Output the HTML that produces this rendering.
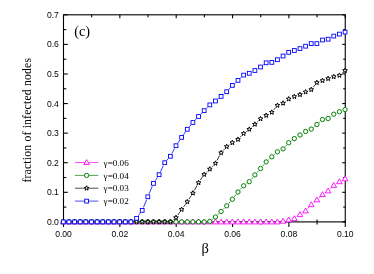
<!DOCTYPE html><html><head><meta charset="utf-8"><style>html,body{margin:0;padding:0;background:#fff}svg{display:block;will-change:transform}.se{font-family:"Liberation Serif",serif}.sa{font-family:"Liberation Sans",sans-serif}</style></head><body><svg width="374" height="274" viewBox="0 0 374 274">
<rect width="374" height="274" fill="#fff"/>
<g stroke="#000" stroke-width="1.1" fill="none">
<rect x="63.5" y="14.8" width="281.75" height="207.10"/>
<line x1="63.50" y1="220.4" x2="63.50" y2="226.9"/>
<line x1="63.50" y1="14.8" x2="63.50" y2="18.3"/>
<line x1="91.67" y1="219.4" x2="91.67" y2="224.4"/>
<line x1="91.67" y1="14.8" x2="91.67" y2="17.3"/>
<line x1="119.85" y1="220.4" x2="119.85" y2="226.9"/>
<line x1="119.85" y1="14.8" x2="119.85" y2="18.3"/>
<line x1="148.03" y1="219.4" x2="148.03" y2="224.4"/>
<line x1="148.03" y1="14.8" x2="148.03" y2="17.3"/>
<line x1="176.20" y1="220.4" x2="176.20" y2="226.9"/>
<line x1="176.20" y1="14.8" x2="176.20" y2="18.3"/>
<line x1="204.38" y1="219.4" x2="204.38" y2="224.4"/>
<line x1="204.38" y1="14.8" x2="204.38" y2="17.3"/>
<line x1="232.55" y1="220.4" x2="232.55" y2="226.9"/>
<line x1="232.55" y1="14.8" x2="232.55" y2="18.3"/>
<line x1="260.73" y1="219.4" x2="260.73" y2="224.4"/>
<line x1="260.73" y1="14.8" x2="260.73" y2="17.3"/>
<line x1="288.90" y1="220.4" x2="288.90" y2="226.9"/>
<line x1="288.90" y1="14.8" x2="288.90" y2="18.3"/>
<line x1="317.07" y1="219.4" x2="317.07" y2="224.4"/>
<line x1="317.07" y1="14.8" x2="317.07" y2="17.3"/>
<line x1="345.25" y1="220.4" x2="345.25" y2="226.9"/>
<line x1="345.25" y1="14.8" x2="345.25" y2="18.3"/>
<line x1="63.5" y1="221.90" x2="67.8" y2="221.90"/>
<line x1="345.25" y1="221.90" x2="342.25" y2="221.90"/>
<line x1="63.5" y1="207.11" x2="66.3" y2="207.11"/>
<line x1="345.25" y1="207.11" x2="343.25" y2="207.11"/>
<line x1="63.5" y1="192.31" x2="67.8" y2="192.31"/>
<line x1="345.25" y1="192.31" x2="342.25" y2="192.31"/>
<line x1="63.5" y1="177.52" x2="66.3" y2="177.52"/>
<line x1="345.25" y1="177.52" x2="343.25" y2="177.52"/>
<line x1="63.5" y1="162.73" x2="67.8" y2="162.73"/>
<line x1="345.25" y1="162.73" x2="342.25" y2="162.73"/>
<line x1="63.5" y1="147.94" x2="66.3" y2="147.94"/>
<line x1="345.25" y1="147.94" x2="343.25" y2="147.94"/>
<line x1="63.5" y1="133.14" x2="67.8" y2="133.14"/>
<line x1="345.25" y1="133.14" x2="342.25" y2="133.14"/>
<line x1="63.5" y1="118.35" x2="66.3" y2="118.35"/>
<line x1="345.25" y1="118.35" x2="343.25" y2="118.35"/>
<line x1="63.5" y1="103.56" x2="67.8" y2="103.56"/>
<line x1="345.25" y1="103.56" x2="342.25" y2="103.56"/>
<line x1="63.5" y1="88.76" x2="66.3" y2="88.76"/>
<line x1="345.25" y1="88.76" x2="343.25" y2="88.76"/>
<line x1="63.5" y1="73.97" x2="67.8" y2="73.97"/>
<line x1="345.25" y1="73.97" x2="342.25" y2="73.97"/>
<line x1="63.5" y1="59.18" x2="66.3" y2="59.18"/>
<line x1="345.25" y1="59.18" x2="343.25" y2="59.18"/>
<line x1="63.5" y1="44.39" x2="67.8" y2="44.39"/>
<line x1="345.25" y1="44.39" x2="342.25" y2="44.39"/>
<line x1="63.5" y1="29.59" x2="66.3" y2="29.59"/>
<line x1="345.25" y1="29.59" x2="343.25" y2="29.59"/>
<line x1="63.5" y1="14.80" x2="67.8" y2="14.80"/>
<line x1="345.25" y1="14.80" x2="342.25" y2="14.80"/>
</g>
<path d="M296.94,216.75L297.36,216.45M302.64,212.84L302.93,212.66M307.76,208.53L309.09,207.07M313.68,202.62L314.44,201.98M319.21,197.71L320.18,196.79M325.18,192.84L325.47,192.66M330.44,188.66L331.49,187.64M336.45,183.64L336.74,183.46" fill="none" stroke="#ff00ff" stroke-width="0.8"/>
<path d="M60.50,223.90 L66.10,223.90 L63.30,219.00 Z" fill="#fff" stroke="#ff00ff" stroke-width="0.9"/>
<path d="M66.14,223.90 L71.73,223.90 L68.94,219.00 Z" fill="#fff" stroke="#ff00ff" stroke-width="0.9"/>
<path d="M71.77,223.90 L77.37,223.90 L74.57,219.00 Z" fill="#fff" stroke="#ff00ff" stroke-width="0.9"/>
<path d="M77.41,223.90 L83.00,223.90 L80.20,219.00 Z" fill="#fff" stroke="#ff00ff" stroke-width="0.9"/>
<path d="M83.04,223.90 L88.64,223.90 L85.84,219.00 Z" fill="#fff" stroke="#ff00ff" stroke-width="0.9"/>
<path d="M88.67,223.90 L94.27,223.90 L91.47,219.00 Z" fill="#fff" stroke="#ff00ff" stroke-width="0.9"/>
<path d="M94.31,223.90 L99.91,223.90 L97.11,219.00 Z" fill="#fff" stroke="#ff00ff" stroke-width="0.9"/>
<path d="M99.95,223.90 L105.55,223.90 L102.75,219.00 Z" fill="#fff" stroke="#ff00ff" stroke-width="0.9"/>
<path d="M105.58,223.90 L111.18,223.90 L108.38,219.00 Z" fill="#fff" stroke="#ff00ff" stroke-width="0.9"/>
<path d="M111.21,223.90 L116.81,223.90 L114.01,219.00 Z" fill="#fff" stroke="#ff00ff" stroke-width="0.9"/>
<path d="M116.85,223.90 L122.45,223.90 L119.65,219.00 Z" fill="#fff" stroke="#ff00ff" stroke-width="0.9"/>
<path d="M122.48,223.90 L128.09,223.90 L125.28,219.00 Z" fill="#fff" stroke="#ff00ff" stroke-width="0.9"/>
<path d="M128.12,223.90 L133.72,223.90 L130.92,219.00 Z" fill="#fff" stroke="#ff00ff" stroke-width="0.9"/>
<path d="M133.75,223.90 L139.36,223.90 L136.56,219.00 Z" fill="#fff" stroke="#ff00ff" stroke-width="0.9"/>
<path d="M139.39,223.90 L144.99,223.90 L142.19,219.00 Z" fill="#fff" stroke="#ff00ff" stroke-width="0.9"/>
<path d="M145.02,223.90 L150.62,223.90 L147.82,219.00 Z" fill="#fff" stroke="#ff00ff" stroke-width="0.9"/>
<path d="M150.66,223.90 L156.26,223.90 L153.46,219.00 Z" fill="#fff" stroke="#ff00ff" stroke-width="0.9"/>
<path d="M156.29,223.90 L161.90,223.90 L159.09,219.00 Z" fill="#fff" stroke="#ff00ff" stroke-width="0.9"/>
<path d="M161.93,223.90 L167.53,223.90 L164.73,219.00 Z" fill="#fff" stroke="#ff00ff" stroke-width="0.9"/>
<path d="M167.56,223.90 L173.17,223.90 L170.37,219.00 Z" fill="#fff" stroke="#ff00ff" stroke-width="0.9"/>
<path d="M173.20,223.90 L178.80,223.90 L176.00,219.00 Z" fill="#fff" stroke="#ff00ff" stroke-width="0.9"/>
<path d="M178.83,223.90 L184.44,223.90 L181.63,219.00 Z" fill="#fff" stroke="#ff00ff" stroke-width="0.9"/>
<path d="M184.47,223.90 L190.07,223.90 L187.27,219.00 Z" fill="#fff" stroke="#ff00ff" stroke-width="0.9"/>
<path d="M190.10,223.90 L195.70,223.90 L192.90,219.00 Z" fill="#fff" stroke="#ff00ff" stroke-width="0.9"/>
<path d="M195.74,223.90 L201.34,223.90 L198.54,219.00 Z" fill="#fff" stroke="#ff00ff" stroke-width="0.9"/>
<path d="M201.38,223.90 L206.98,223.90 L204.18,219.00 Z" fill="#fff" stroke="#ff00ff" stroke-width="0.9"/>
<path d="M207.01,223.90 L212.61,223.90 L209.81,219.00 Z" fill="#fff" stroke="#ff00ff" stroke-width="0.9"/>
<path d="M212.64,223.90 L218.25,223.90 L215.44,219.00 Z" fill="#fff" stroke="#ff00ff" stroke-width="0.9"/>
<path d="M218.28,223.90 L223.88,223.90 L221.08,219.00 Z" fill="#fff" stroke="#ff00ff" stroke-width="0.9"/>
<path d="M223.91,223.90 L229.51,223.90 L226.71,219.00 Z" fill="#fff" stroke="#ff00ff" stroke-width="0.9"/>
<path d="M229.55,223.90 L235.15,223.90 L232.35,219.00 Z" fill="#fff" stroke="#ff00ff" stroke-width="0.9"/>
<path d="M235.19,223.90 L240.79,223.90 L237.99,219.00 Z" fill="#fff" stroke="#ff00ff" stroke-width="0.9"/>
<path d="M240.82,223.90 L246.42,223.90 L243.62,219.00 Z" fill="#fff" stroke="#ff00ff" stroke-width="0.9"/>
<path d="M246.45,223.90 L252.06,223.90 L249.25,219.00 Z" fill="#fff" stroke="#ff00ff" stroke-width="0.9"/>
<path d="M252.09,223.90 L257.69,223.90 L254.89,219.00 Z" fill="#fff" stroke="#ff00ff" stroke-width="0.9"/>
<path d="M257.72,223.90 L263.32,223.90 L260.52,219.00 Z" fill="#fff" stroke="#ff00ff" stroke-width="0.9"/>
<path d="M263.36,223.90 L268.96,223.90 L266.16,219.00 Z" fill="#fff" stroke="#ff00ff" stroke-width="0.9"/>
<path d="M269.00,223.90 L274.60,223.90 L271.80,219.00 Z" fill="#fff" stroke="#ff00ff" stroke-width="0.9"/>
<path d="M274.63,223.90 L280.23,223.90 L277.43,219.00 Z" fill="#fff" stroke="#ff00ff" stroke-width="0.9"/>
<path d="M280.26,223.20 L285.87,223.20 L283.06,218.30 Z" fill="#fff" stroke="#ff00ff" stroke-width="0.9"/>
<path d="M285.90,221.90 L291.50,221.90 L288.70,217.00 Z" fill="#fff" stroke="#ff00ff" stroke-width="0.9"/>
<path d="M291.53,220.60 L297.13,220.60 L294.33,215.70 Z" fill="#fff" stroke="#ff00ff" stroke-width="0.9"/>
<path d="M297.17,216.60 L302.77,216.60 L299.97,211.70 Z" fill="#fff" stroke="#ff00ff" stroke-width="0.9"/>
<path d="M302.80,212.90 L308.40,212.90 L305.60,208.00 Z" fill="#fff" stroke="#ff00ff" stroke-width="0.9"/>
<path d="M308.44,206.70 L314.04,206.70 L311.24,201.80 Z" fill="#fff" stroke="#ff00ff" stroke-width="0.9"/>
<path d="M314.07,201.90 L319.68,201.90 L316.88,197.00 Z" fill="#fff" stroke="#ff00ff" stroke-width="0.9"/>
<path d="M319.71,196.60 L325.31,196.60 L322.51,191.70 Z" fill="#fff" stroke="#ff00ff" stroke-width="0.9"/>
<path d="M325.34,192.90 L330.94,192.90 L328.14,188.00 Z" fill="#fff" stroke="#ff00ff" stroke-width="0.9"/>
<path d="M330.98,187.40 L336.58,187.40 L333.78,182.50 Z" fill="#fff" stroke="#ff00ff" stroke-width="0.9"/>
<path d="M336.62,183.70 L342.22,183.70 L339.42,178.80 Z" fill="#fff" stroke="#ff00ff" stroke-width="0.9"/>
<path d="M342.25,180.80 L347.85,180.80 L345.05,175.90 Z" fill="#fff" stroke="#ff00ff" stroke-width="0.9"/>
<path d="M212.33,219.43L212.92,218.97M217.74,214.76L218.79,213.74M223.33,209.22L224.47,208.08M228.79,203.37L230.27,201.63M234.32,196.68L236.01,194.52M240.14,189.63L241.47,188.17M246.21,183.92L246.67,183.58M251.30,179.24L252.85,177.36M257.00,172.50L258.41,170.90M262.60,166.07L264.08,164.33M268.53,159.75L269.42,158.95M274.19,154.68L275.04,153.92M285.22,146.53L286.55,145.07M291.29,140.82L291.75,140.48M313.72,127.08L314.40,126.52M319.27,122.38L320.12,121.62M330.69,116.56L331.24,116.14" fill="none" stroke="#008000" stroke-width="0.8"/>
<circle cx="63.30" cy="221.90" r="2.15" fill="#fff" stroke="#008000" stroke-width="1.0"/>
<circle cx="68.94" cy="221.90" r="2.15" fill="#fff" stroke="#008000" stroke-width="1.0"/>
<circle cx="74.57" cy="221.90" r="2.15" fill="#fff" stroke="#008000" stroke-width="1.0"/>
<circle cx="80.20" cy="221.90" r="2.15" fill="#fff" stroke="#008000" stroke-width="1.0"/>
<circle cx="85.84" cy="221.90" r="2.15" fill="#fff" stroke="#008000" stroke-width="1.0"/>
<circle cx="91.47" cy="221.90" r="2.15" fill="#fff" stroke="#008000" stroke-width="1.0"/>
<circle cx="97.11" cy="221.90" r="2.15" fill="#fff" stroke="#008000" stroke-width="1.0"/>
<circle cx="102.75" cy="221.90" r="2.15" fill="#fff" stroke="#008000" stroke-width="1.0"/>
<circle cx="108.38" cy="221.90" r="2.15" fill="#fff" stroke="#008000" stroke-width="1.0"/>
<circle cx="114.01" cy="221.90" r="2.15" fill="#fff" stroke="#008000" stroke-width="1.0"/>
<circle cx="119.65" cy="221.90" r="2.15" fill="#fff" stroke="#008000" stroke-width="1.0"/>
<circle cx="125.28" cy="221.90" r="2.15" fill="#fff" stroke="#008000" stroke-width="1.0"/>
<circle cx="130.92" cy="221.90" r="2.15" fill="#fff" stroke="#008000" stroke-width="1.0"/>
<circle cx="136.56" cy="221.90" r="2.15" fill="#fff" stroke="#008000" stroke-width="1.0"/>
<circle cx="142.19" cy="221.90" r="2.15" fill="#fff" stroke="#008000" stroke-width="1.0"/>
<circle cx="147.82" cy="221.90" r="2.15" fill="#fff" stroke="#008000" stroke-width="1.0"/>
<circle cx="153.46" cy="221.90" r="2.15" fill="#fff" stroke="#008000" stroke-width="1.0"/>
<circle cx="159.09" cy="221.90" r="2.15" fill="#fff" stroke="#008000" stroke-width="1.0"/>
<circle cx="164.73" cy="221.90" r="2.15" fill="#fff" stroke="#008000" stroke-width="1.0"/>
<circle cx="170.37" cy="221.90" r="2.15" fill="#fff" stroke="#008000" stroke-width="1.0"/>
<circle cx="176.00" cy="221.90" r="2.15" fill="#fff" stroke="#008000" stroke-width="1.0"/>
<circle cx="181.63" cy="221.90" r="2.15" fill="#fff" stroke="#008000" stroke-width="1.0"/>
<circle cx="187.27" cy="221.90" r="2.15" fill="#fff" stroke="#008000" stroke-width="1.0"/>
<circle cx="192.90" cy="221.90" r="2.15" fill="#fff" stroke="#008000" stroke-width="1.0"/>
<circle cx="198.54" cy="221.90" r="2.15" fill="#fff" stroke="#008000" stroke-width="1.0"/>
<circle cx="204.18" cy="221.90" r="2.15" fill="#fff" stroke="#008000" stroke-width="1.0"/>
<circle cx="209.81" cy="221.40" r="2.15" fill="#fff" stroke="#008000" stroke-width="1.0"/>
<circle cx="215.44" cy="217.00" r="2.15" fill="#fff" stroke="#008000" stroke-width="1.0"/>
<circle cx="221.08" cy="211.50" r="2.15" fill="#fff" stroke="#008000" stroke-width="1.0"/>
<circle cx="226.71" cy="205.80" r="2.15" fill="#fff" stroke="#008000" stroke-width="1.0"/>
<circle cx="232.35" cy="199.20" r="2.15" fill="#fff" stroke="#008000" stroke-width="1.0"/>
<circle cx="237.99" cy="192.00" r="2.15" fill="#fff" stroke="#008000" stroke-width="1.0"/>
<circle cx="243.62" cy="185.80" r="2.15" fill="#fff" stroke="#008000" stroke-width="1.0"/>
<circle cx="249.25" cy="181.70" r="2.15" fill="#fff" stroke="#008000" stroke-width="1.0"/>
<circle cx="254.89" cy="174.90" r="2.15" fill="#fff" stroke="#008000" stroke-width="1.0"/>
<circle cx="260.52" cy="168.50" r="2.15" fill="#fff" stroke="#008000" stroke-width="1.0"/>
<circle cx="266.16" cy="161.90" r="2.15" fill="#fff" stroke="#008000" stroke-width="1.0"/>
<circle cx="271.80" cy="156.80" r="2.15" fill="#fff" stroke="#008000" stroke-width="1.0"/>
<circle cx="277.43" cy="151.80" r="2.15" fill="#fff" stroke="#008000" stroke-width="1.0"/>
<circle cx="283.06" cy="148.90" r="2.15" fill="#fff" stroke="#008000" stroke-width="1.0"/>
<circle cx="288.70" cy="142.70" r="2.15" fill="#fff" stroke="#008000" stroke-width="1.0"/>
<circle cx="294.33" cy="138.60" r="2.15" fill="#fff" stroke="#008000" stroke-width="1.0"/>
<circle cx="299.97" cy="135.00" r="2.15" fill="#fff" stroke="#008000" stroke-width="1.0"/>
<circle cx="305.60" cy="131.50" r="2.15" fill="#fff" stroke="#008000" stroke-width="1.0"/>
<circle cx="311.24" cy="129.10" r="2.15" fill="#fff" stroke="#008000" stroke-width="1.0"/>
<circle cx="316.88" cy="124.50" r="2.15" fill="#fff" stroke="#008000" stroke-width="1.0"/>
<circle cx="322.51" cy="119.50" r="2.15" fill="#fff" stroke="#008000" stroke-width="1.0"/>
<circle cx="328.14" cy="118.50" r="2.15" fill="#fff" stroke="#008000" stroke-width="1.0"/>
<circle cx="333.78" cy="114.20" r="2.15" fill="#fff" stroke="#008000" stroke-width="1.0"/>
<circle cx="339.42" cy="111.80" r="2.15" fill="#fff" stroke="#008000" stroke-width="1.0"/>
<circle cx="345.05" cy="109.60" r="2.15" fill="#fff" stroke="#008000" stroke-width="1.0"/>
<path d="M172.91,219.96L173.46,219.54M177.83,214.97L179.81,212.13M183.52,206.92L185.38,204.38M189.01,199.11L191.17,195.79M194.43,190.29L197.02,185.51M200.35,180.06L202.36,177.14M206.49,172.29L207.50,171.31M212.04,166.80L213.22,165.60M216.96,160.48L219.57,155.62M223.23,150.43L224.56,148.97M229.35,144.78L229.72,144.52M240.20,137.09L241.41,135.81M246.19,131.59L246.69,131.21M251.65,127.18L252.50,126.42M257.18,122.06L258.23,121.04M273.82,109.82L275.41,107.88M285.63,101.29L286.13,100.91M313.25,87.11L314.87,85.09M341.83,73.30L342.64,72.60" fill="none" stroke="#000" stroke-width="0.8"/>
<polygon points="63.30,219.45 63.92,221.05 65.63,221.14 64.30,222.22 64.74,223.88 63.30,222.95 61.86,223.88 62.30,222.22 60.97,221.14 62.68,221.05" fill="#fff" stroke="#000" stroke-width="1.0"/>
<polygon points="68.94,219.45 69.55,221.05 71.27,221.14 69.93,222.22 70.38,223.88 68.94,222.95 67.49,223.88 67.94,222.22 66.60,221.14 68.32,221.05" fill="#fff" stroke="#000" stroke-width="1.0"/>
<polygon points="74.57,219.45 75.19,221.05 76.90,221.14 75.57,222.22 76.01,223.88 74.57,222.95 73.13,223.88 73.57,222.22 72.24,221.14 73.95,221.05" fill="#fff" stroke="#000" stroke-width="1.0"/>
<polygon points="80.20,219.45 80.82,221.05 82.54,221.14 81.20,222.22 81.65,223.88 80.20,222.95 78.76,223.88 79.21,222.22 77.87,221.14 79.59,221.05" fill="#fff" stroke="#000" stroke-width="1.0"/>
<polygon points="85.84,219.45 86.46,221.05 88.17,221.14 86.84,222.22 87.28,223.88 85.84,222.95 84.40,223.88 84.84,222.22 83.51,221.14 85.22,221.05" fill="#fff" stroke="#000" stroke-width="1.0"/>
<polygon points="91.47,219.45 92.09,221.05 93.81,221.14 92.47,222.22 92.92,223.88 91.47,222.95 90.03,223.88 90.48,222.22 89.14,221.14 90.86,221.05" fill="#fff" stroke="#000" stroke-width="1.0"/>
<polygon points="97.11,219.45 97.73,221.05 99.44,221.14 98.11,222.22 98.55,223.88 97.11,222.95 95.67,223.88 96.11,222.22 94.78,221.14 96.49,221.05" fill="#fff" stroke="#000" stroke-width="1.0"/>
<polygon points="102.75,219.45 103.36,221.05 105.08,221.14 103.74,222.22 104.19,223.88 102.75,222.95 101.30,223.88 101.75,222.22 100.41,221.14 102.13,221.05" fill="#fff" stroke="#000" stroke-width="1.0"/>
<polygon points="108.38,219.45 109.00,221.05 110.71,221.14 109.38,222.22 109.82,223.88 108.38,222.95 106.94,223.88 107.38,222.22 106.05,221.14 107.76,221.05" fill="#fff" stroke="#000" stroke-width="1.0"/>
<polygon points="114.01,219.45 114.63,221.05 116.35,221.14 115.01,222.22 115.46,223.88 114.01,222.95 112.57,223.88 113.02,222.22 111.68,221.14 113.40,221.05" fill="#fff" stroke="#000" stroke-width="1.0"/>
<polygon points="119.65,219.45 120.27,221.05 121.98,221.14 120.65,222.22 121.09,223.88 119.65,222.95 118.21,223.88 118.65,222.22 117.32,221.14 119.03,221.05" fill="#fff" stroke="#000" stroke-width="1.0"/>
<polygon points="125.28,219.45 125.90,221.05 127.62,221.14 126.28,222.22 126.73,223.88 125.28,222.95 123.84,223.88 124.29,222.22 122.95,221.14 124.67,221.05" fill="#fff" stroke="#000" stroke-width="1.0"/>
<polygon points="130.92,219.45 131.54,221.05 133.25,221.14 131.92,222.22 132.36,223.88 130.92,222.95 129.48,223.88 129.92,222.22 128.59,221.14 130.30,221.05" fill="#fff" stroke="#000" stroke-width="1.0"/>
<polygon points="136.56,219.45 137.17,221.05 138.89,221.14 137.55,222.22 138.00,223.88 136.56,222.95 135.11,223.88 135.56,222.22 134.22,221.14 135.94,221.05" fill="#fff" stroke="#000" stroke-width="1.0"/>
<polygon points="142.19,219.45 142.81,221.05 144.52,221.14 143.19,222.22 143.63,223.88 142.19,222.95 140.75,223.88 141.19,222.22 139.86,221.14 141.57,221.05" fill="#fff" stroke="#000" stroke-width="1.0"/>
<polygon points="147.82,219.45 148.44,221.05 150.16,221.14 148.82,222.22 149.27,223.88 147.82,222.95 146.38,223.88 146.83,222.22 145.49,221.14 147.21,221.05" fill="#fff" stroke="#000" stroke-width="1.0"/>
<polygon points="153.46,219.45 154.08,221.05 155.79,221.14 154.46,222.22 154.90,223.88 153.46,222.95 152.02,223.88 152.46,222.22 151.13,221.14 152.84,221.05" fill="#fff" stroke="#000" stroke-width="1.0"/>
<polygon points="159.09,219.45 159.71,221.05 161.43,221.14 160.09,222.22 160.54,223.88 159.09,222.95 157.65,223.88 158.10,222.22 156.76,221.14 158.48,221.05" fill="#fff" stroke="#000" stroke-width="1.0"/>
<polygon points="164.73,219.45 165.35,221.05 167.06,221.14 165.73,222.22 166.17,223.88 164.73,222.95 163.29,223.88 163.73,222.22 162.40,221.14 164.11,221.05" fill="#fff" stroke="#000" stroke-width="1.0"/>
<polygon points="170.37,219.45 170.98,221.05 172.70,221.14 171.36,222.22 171.81,223.88 170.37,222.95 168.92,223.88 169.37,222.22 168.03,221.14 169.75,221.05" fill="#fff" stroke="#000" stroke-width="1.0"/>
<polygon points="176.00,215.15 176.62,216.75 178.33,216.84 177.00,217.92 177.44,219.58 176.00,218.65 174.56,219.58 175.00,217.92 173.67,216.84 175.38,216.75" fill="#fff" stroke="#000" stroke-width="1.0"/>
<polygon points="181.63,207.05 182.25,208.65 183.97,208.74 182.63,209.82 183.08,211.48 181.63,210.55 180.19,211.48 180.64,209.82 179.30,208.74 181.02,208.65" fill="#fff" stroke="#000" stroke-width="1.0"/>
<polygon points="187.27,199.35 187.89,200.95 189.60,201.04 188.27,202.12 188.71,203.78 187.27,202.85 185.83,203.78 186.27,202.12 184.94,201.04 186.65,200.95" fill="#fff" stroke="#000" stroke-width="1.0"/>
<polygon points="192.90,190.65 193.52,192.25 195.24,192.34 193.90,193.42 194.35,195.08 192.90,194.15 191.46,195.08 191.91,193.42 190.57,192.34 192.29,192.25" fill="#fff" stroke="#000" stroke-width="1.0"/>
<polygon points="198.54,180.25 199.16,181.85 200.87,181.94 199.54,183.02 199.98,184.68 198.54,183.75 197.10,184.68 197.54,183.02 196.21,181.94 197.92,181.85" fill="#fff" stroke="#000" stroke-width="1.0"/>
<polygon points="204.18,172.05 204.79,173.65 206.51,173.74 205.17,174.82 205.62,176.48 204.18,175.55 202.73,176.48 203.18,174.82 201.84,173.74 203.56,173.65" fill="#fff" stroke="#000" stroke-width="1.0"/>
<polygon points="209.81,166.65 210.43,168.25 212.14,168.34 210.81,169.42 211.25,171.08 209.81,170.15 208.37,171.08 208.81,169.42 207.48,168.34 209.19,168.25" fill="#fff" stroke="#000" stroke-width="1.0"/>
<polygon points="215.44,160.85 216.06,162.45 217.78,162.54 216.44,163.62 216.89,165.28 215.44,164.35 214.00,165.28 214.45,163.62 213.11,162.54 214.83,162.45" fill="#fff" stroke="#000" stroke-width="1.0"/>
<polygon points="221.08,150.35 221.70,151.95 223.41,152.04 222.08,153.12 222.52,154.78 221.08,153.85 219.64,154.78 220.08,153.12 218.75,152.04 220.46,151.95" fill="#fff" stroke="#000" stroke-width="1.0"/>
<polygon points="226.71,144.15 227.33,145.75 229.05,145.84 227.71,146.92 228.16,148.58 226.71,147.65 225.27,148.58 225.72,146.92 224.38,145.84 226.10,145.75" fill="#fff" stroke="#000" stroke-width="1.0"/>
<polygon points="232.35,140.25 232.97,141.85 234.68,141.94 233.35,143.02 233.79,144.68 232.35,143.75 230.91,144.68 231.35,143.02 230.02,141.94 231.73,141.85" fill="#fff" stroke="#000" stroke-width="1.0"/>
<polygon points="237.99,136.95 238.60,138.55 240.32,138.64 238.98,139.72 239.43,141.38 237.99,140.45 236.54,141.38 236.99,139.72 235.65,138.64 237.37,138.55" fill="#fff" stroke="#000" stroke-width="1.0"/>
<polygon points="243.62,131.05 244.24,132.65 245.95,132.74 244.62,133.82 245.06,135.48 243.62,134.55 242.18,135.48 242.62,133.82 241.29,132.74 243.00,132.65" fill="#fff" stroke="#000" stroke-width="1.0"/>
<polygon points="249.25,126.85 249.87,128.45 251.59,128.54 250.25,129.62 250.70,131.28 249.25,130.35 247.81,131.28 248.26,129.62 246.92,128.54 248.64,128.45" fill="#fff" stroke="#000" stroke-width="1.0"/>
<polygon points="254.89,121.85 255.51,123.45 257.22,123.54 255.89,124.62 256.33,126.28 254.89,125.35 253.45,126.28 253.89,124.62 252.56,123.54 254.27,123.45" fill="#fff" stroke="#000" stroke-width="1.0"/>
<polygon points="260.52,116.35 261.14,117.95 262.86,118.04 261.52,119.12 261.97,120.78 260.52,119.85 259.08,120.78 259.53,119.12 258.19,118.04 259.91,117.95" fill="#fff" stroke="#000" stroke-width="1.0"/>
<polygon points="266.16,112.95 266.78,114.55 268.49,114.64 267.16,115.72 267.60,117.38 266.16,116.45 264.72,117.38 265.16,115.72 263.83,114.64 265.54,114.55" fill="#fff" stroke="#000" stroke-width="1.0"/>
<polygon points="271.80,109.85 272.41,111.45 274.13,111.54 272.79,112.62 273.24,114.28 271.80,113.35 270.35,114.28 270.80,112.62 269.46,111.54 271.18,111.45" fill="#fff" stroke="#000" stroke-width="1.0"/>
<polygon points="277.43,102.95 278.05,104.55 279.76,104.64 278.43,105.72 278.87,107.38 277.43,106.45 275.99,107.38 276.43,105.72 275.10,104.64 276.81,104.55" fill="#fff" stroke="#000" stroke-width="1.0"/>
<polygon points="283.06,100.75 283.68,102.35 285.40,102.44 284.06,103.52 284.51,105.18 283.06,104.25 281.62,105.18 282.07,103.52 280.73,102.44 282.45,102.35" fill="#fff" stroke="#000" stroke-width="1.0"/>
<polygon points="288.70,96.55 289.32,98.15 291.03,98.24 289.70,99.32 290.14,100.98 288.70,100.05 287.26,100.98 287.70,99.32 286.37,98.24 288.08,98.15" fill="#fff" stroke="#000" stroke-width="1.0"/>
<polygon points="294.33,94.15 294.95,95.75 296.67,95.84 295.33,96.92 295.78,98.58 294.33,97.65 292.89,98.58 293.34,96.92 292.00,95.84 293.72,95.75" fill="#fff" stroke="#000" stroke-width="1.0"/>
<polygon points="299.97,92.15 300.59,93.75 302.30,93.84 300.97,94.92 301.41,96.58 299.97,95.65 298.53,96.58 298.97,94.92 297.64,93.84 299.35,93.75" fill="#fff" stroke="#000" stroke-width="1.0"/>
<polygon points="305.60,89.55 306.22,91.15 307.94,91.24 306.60,92.32 307.05,93.98 305.60,93.05 304.16,93.98 304.61,92.32 303.27,91.24 304.99,91.15" fill="#fff" stroke="#000" stroke-width="1.0"/>
<polygon points="311.24,87.15 311.86,88.75 313.57,88.84 312.24,89.92 312.68,91.58 311.24,90.65 309.80,91.58 310.24,89.92 308.91,88.84 310.62,88.75" fill="#fff" stroke="#000" stroke-width="1.0"/>
<polygon points="316.88,80.15 317.49,81.75 319.21,81.84 317.87,82.92 318.32,84.58 316.88,83.65 315.43,84.58 315.88,82.92 314.54,81.84 316.26,81.75" fill="#fff" stroke="#000" stroke-width="1.0"/>
<polygon points="322.51,78.15 323.13,79.75 324.84,79.84 323.51,80.92 323.95,82.58 322.51,81.65 321.07,82.58 321.51,80.92 320.18,79.84 321.89,79.75" fill="#fff" stroke="#000" stroke-width="1.0"/>
<polygon points="328.14,76.15 328.76,77.75 330.48,77.84 329.14,78.92 329.59,80.58 328.14,79.65 326.70,80.58 327.15,78.92 325.81,77.84 327.53,77.75" fill="#fff" stroke="#000" stroke-width="1.0"/>
<polygon points="333.78,74.25 334.40,75.85 336.11,75.94 334.78,77.02 335.22,78.68 333.78,77.75 332.34,78.68 332.78,77.02 331.45,75.94 333.16,75.85" fill="#fff" stroke="#000" stroke-width="1.0"/>
<polygon points="339.42,72.95 340.03,74.55 341.75,74.64 340.41,75.72 340.86,77.38 339.42,76.45 337.97,77.38 338.42,75.72 337.08,74.64 338.80,74.55" fill="#fff" stroke="#000" stroke-width="1.0"/>
<polygon points="345.05,68.05 345.67,69.65 347.38,69.74 346.05,70.82 346.49,72.48 345.05,71.55 343.61,72.48 344.05,70.82 342.72,69.74 344.43,69.65" fill="#fff" stroke="#000" stroke-width="1.0"/>
<path d="M138.41,215.69L140.33,213.01M143.41,207.44L146.60,199.76M149.07,193.85L152.22,186.35M155.20,180.71L157.36,177.39M160.46,171.80L163.37,165.60M166.84,160.30L168.25,158.70M171.87,153.47L174.50,148.53M177.80,143.05L179.84,140.05M183.46,134.77L185.44,131.93M189.31,126.84L190.86,124.96M195.10,120.17L196.35,118.83M200.75,114.19L201.96,112.91M206.42,108.32L207.56,107.18M212.44,103.08L212.81,102.82M217.92,98.98L218.60,98.42M223.54,94.35L224.26,93.75M228.85,89.31L230.22,87.79M234.74,83.28L235.59,82.52M240.32,78.21L241.29,77.29M263.09,65.09L263.59,64.71M280.10,57.94L280.39,57.76M285.74,54.24L286.03,54.06" fill="none" stroke="#0000ff" stroke-width="0.8"/>
<rect x="61.40" y="220.00" width="3.8" height="3.8" fill="#fff" stroke="#0000ff" stroke-width="0.9"/>
<rect x="67.03" y="220.00" width="3.8" height="3.8" fill="#fff" stroke="#0000ff" stroke-width="0.9"/>
<rect x="72.67" y="220.00" width="3.8" height="3.8" fill="#fff" stroke="#0000ff" stroke-width="0.9"/>
<rect x="78.30" y="220.00" width="3.8" height="3.8" fill="#fff" stroke="#0000ff" stroke-width="0.9"/>
<rect x="83.94" y="220.00" width="3.8" height="3.8" fill="#fff" stroke="#0000ff" stroke-width="0.9"/>
<rect x="89.57" y="220.00" width="3.8" height="3.8" fill="#fff" stroke="#0000ff" stroke-width="0.9"/>
<rect x="95.21" y="220.00" width="3.8" height="3.8" fill="#fff" stroke="#0000ff" stroke-width="0.9"/>
<rect x="100.84" y="220.00" width="3.8" height="3.8" fill="#fff" stroke="#0000ff" stroke-width="0.9"/>
<rect x="106.48" y="220.00" width="3.8" height="3.8" fill="#fff" stroke="#0000ff" stroke-width="0.9"/>
<rect x="112.11" y="220.00" width="3.8" height="3.8" fill="#fff" stroke="#0000ff" stroke-width="0.9"/>
<rect x="117.75" y="220.00" width="3.8" height="3.8" fill="#fff" stroke="#0000ff" stroke-width="0.9"/>
<rect x="123.38" y="220.00" width="3.8" height="3.8" fill="#fff" stroke="#0000ff" stroke-width="0.9"/>
<rect x="129.02" y="220.00" width="3.8" height="3.8" fill="#fff" stroke="#0000ff" stroke-width="0.9"/>
<rect x="134.66" y="216.40" width="3.8" height="3.8" fill="#fff" stroke="#0000ff" stroke-width="0.9"/>
<rect x="140.29" y="208.50" width="3.8" height="3.8" fill="#fff" stroke="#0000ff" stroke-width="0.9"/>
<rect x="145.92" y="194.90" width="3.8" height="3.8" fill="#fff" stroke="#0000ff" stroke-width="0.9"/>
<rect x="151.56" y="181.50" width="3.8" height="3.8" fill="#fff" stroke="#0000ff" stroke-width="0.9"/>
<rect x="157.19" y="172.80" width="3.8" height="3.8" fill="#fff" stroke="#0000ff" stroke-width="0.9"/>
<rect x="162.83" y="160.80" width="3.8" height="3.8" fill="#fff" stroke="#0000ff" stroke-width="0.9"/>
<rect x="168.47" y="154.40" width="3.8" height="3.8" fill="#fff" stroke="#0000ff" stroke-width="0.9"/>
<rect x="174.10" y="143.80" width="3.8" height="3.8" fill="#fff" stroke="#0000ff" stroke-width="0.9"/>
<rect x="179.73" y="135.50" width="3.8" height="3.8" fill="#fff" stroke="#0000ff" stroke-width="0.9"/>
<rect x="185.37" y="127.40" width="3.8" height="3.8" fill="#fff" stroke="#0000ff" stroke-width="0.9"/>
<rect x="191.00" y="120.60" width="3.8" height="3.8" fill="#fff" stroke="#0000ff" stroke-width="0.9"/>
<rect x="196.64" y="114.60" width="3.8" height="3.8" fill="#fff" stroke="#0000ff" stroke-width="0.9"/>
<rect x="202.28" y="108.70" width="3.8" height="3.8" fill="#fff" stroke="#0000ff" stroke-width="0.9"/>
<rect x="207.91" y="103.00" width="3.8" height="3.8" fill="#fff" stroke="#0000ff" stroke-width="0.9"/>
<rect x="213.54" y="99.10" width="3.8" height="3.8" fill="#fff" stroke="#0000ff" stroke-width="0.9"/>
<rect x="219.18" y="94.50" width="3.8" height="3.8" fill="#fff" stroke="#0000ff" stroke-width="0.9"/>
<rect x="224.81" y="89.80" width="3.8" height="3.8" fill="#fff" stroke="#0000ff" stroke-width="0.9"/>
<rect x="230.45" y="83.50" width="3.8" height="3.8" fill="#fff" stroke="#0000ff" stroke-width="0.9"/>
<rect x="236.09" y="78.50" width="3.8" height="3.8" fill="#fff" stroke="#0000ff" stroke-width="0.9"/>
<rect x="241.72" y="73.20" width="3.8" height="3.8" fill="#fff" stroke="#0000ff" stroke-width="0.9"/>
<rect x="247.35" y="71.40" width="3.8" height="3.8" fill="#fff" stroke="#0000ff" stroke-width="0.9"/>
<rect x="252.99" y="68.60" width="3.8" height="3.8" fill="#fff" stroke="#0000ff" stroke-width="0.9"/>
<rect x="258.62" y="65.10" width="3.8" height="3.8" fill="#fff" stroke="#0000ff" stroke-width="0.9"/>
<rect x="264.26" y="60.90" width="3.8" height="3.8" fill="#fff" stroke="#0000ff" stroke-width="0.9"/>
<rect x="269.90" y="60.50" width="3.8" height="3.8" fill="#fff" stroke="#0000ff" stroke-width="0.9"/>
<rect x="275.53" y="57.80" width="3.8" height="3.8" fill="#fff" stroke="#0000ff" stroke-width="0.9"/>
<rect x="281.17" y="54.10" width="3.8" height="3.8" fill="#fff" stroke="#0000ff" stroke-width="0.9"/>
<rect x="286.80" y="50.40" width="3.8" height="3.8" fill="#fff" stroke="#0000ff" stroke-width="0.9"/>
<rect x="292.44" y="48.60" width="3.8" height="3.8" fill="#fff" stroke="#0000ff" stroke-width="0.9"/>
<rect x="298.07" y="46.70" width="3.8" height="3.8" fill="#fff" stroke="#0000ff" stroke-width="0.9"/>
<rect x="303.70" y="44.30" width="3.8" height="3.8" fill="#fff" stroke="#0000ff" stroke-width="0.9"/>
<rect x="309.34" y="41.70" width="3.8" height="3.8" fill="#fff" stroke="#0000ff" stroke-width="0.9"/>
<rect x="314.98" y="41.70" width="3.8" height="3.8" fill="#fff" stroke="#0000ff" stroke-width="0.9"/>
<rect x="320.61" y="38.10" width="3.8" height="3.8" fill="#fff" stroke="#0000ff" stroke-width="0.9"/>
<rect x="326.25" y="37.30" width="3.8" height="3.8" fill="#fff" stroke="#0000ff" stroke-width="0.9"/>
<rect x="331.88" y="34.20" width="3.8" height="3.8" fill="#fff" stroke="#0000ff" stroke-width="0.9"/>
<rect x="337.52" y="32.20" width="3.8" height="3.8" fill="#fff" stroke="#0000ff" stroke-width="0.9"/>
<rect x="343.15" y="30.20" width="3.8" height="3.8" fill="#fff" stroke="#0000ff" stroke-width="0.9"/>
<g class="sa" font-size="8.6" fill="#000">
<text x="63.50" y="237.2" text-anchor="middle">0.00</text>
<text x="119.85" y="237.2" text-anchor="middle">0.02</text>
<text x="176.20" y="237.2" text-anchor="middle">0.04</text>
<text x="232.55" y="237.2" text-anchor="middle">0.06</text>
<text x="288.90" y="237.2" text-anchor="middle">0.08</text>
<text x="345.25" y="237.2" text-anchor="middle">0.10</text>
<text x="58.9" y="224.90" text-anchor="end">0.0</text>
<text x="58.9" y="195.31" text-anchor="end">0.1</text>
<text x="58.9" y="165.73" text-anchor="end">0.2</text>
<text x="58.9" y="136.14" text-anchor="end">0.3</text>
<text x="58.9" y="106.56" text-anchor="end">0.4</text>
<text x="58.9" y="76.97" text-anchor="end">0.5</text>
<text x="58.9" y="47.39" text-anchor="end">0.6</text>
<text x="58.9" y="17.80" text-anchor="end">0.7</text>
</g>
<line x1="74.9" y1="162.5" x2="98.3" y2="162.5" stroke="#ff00ff" stroke-width="0.7"/>
<path d="M83.80,164.50 L89.40,164.50 L86.60,159.60 Z" fill="#fff" stroke="#ff00ff" stroke-width="0.9"/>
<text x="103.6" y="165.7" class="se" font-size="9.15" fill="#000">γ=0.06</text>
<line x1="74.9" y1="175.4" x2="98.3" y2="175.4" stroke="#008000" stroke-width="0.7"/>
<circle cx="86.60" cy="175.40" r="2.15" fill="#fff" stroke="#008000" stroke-width="1.0"/>
<text x="103.6" y="178.6" class="se" font-size="9.15" fill="#000">γ=0.04</text>
<line x1="74.9" y1="188.2" x2="98.3" y2="188.2" stroke="#000" stroke-width="0.7"/>
<polygon points="86.60,185.75 87.22,187.35 88.93,187.44 87.60,188.52 88.04,190.18 86.60,189.25 85.16,190.18 85.60,188.52 84.27,187.44 85.98,187.35" fill="#fff" stroke="#000" stroke-width="1.0"/>
<text x="103.6" y="191.39999999999998" class="se" font-size="9.15" fill="#000">γ=0.03</text>
<line x1="74.9" y1="201.1" x2="98.3" y2="201.1" stroke="#0000ff" stroke-width="0.7"/>
<rect x="84.70" y="199.20" width="3.8" height="3.8" fill="#fff" stroke="#0000ff" stroke-width="0.9"/>
<text x="103.6" y="204.29999999999998" class="se" font-size="9.15" fill="#000">γ=0.02</text>
<text x="74.2" y="35.8" class="se" font-size="14.4" fill="#000">(c)</text>
<text x="205.2" y="252.8" text-anchor="middle" class="se" font-size="14.5" fill="#000">β</text>
<text transform="translate(30.6,120.3) rotate(-90)" x="-62.3" textLength="124.6" lengthAdjust="spacing" class="se" font-size="11.7" fill="#000">fraction of infected nodes</text>
</svg></body></html>
